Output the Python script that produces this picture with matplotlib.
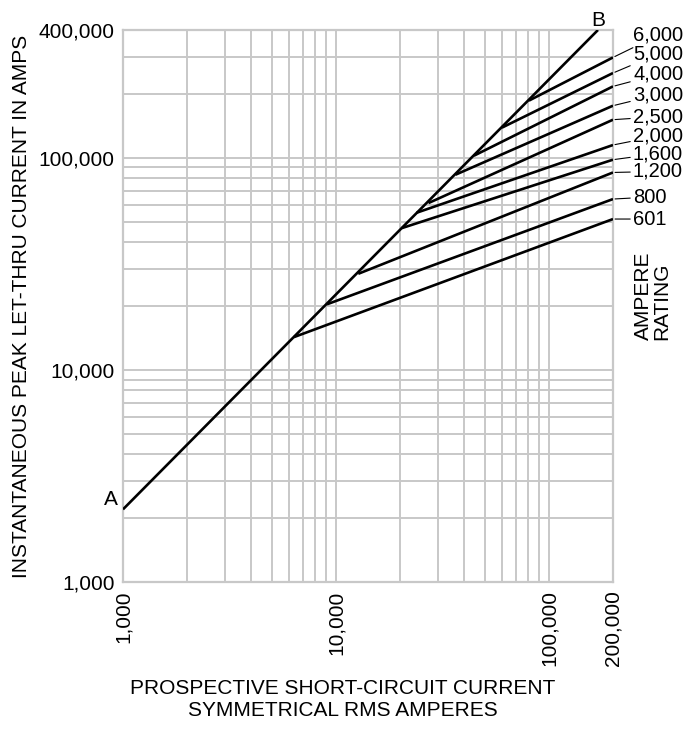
import numpy as np
import matplotlib
matplotlib.use('Agg')
import matplotlib.pyplot as plt
from matplotlib.ticker import FixedLocator, NullFormatter

plt.rcParams['font.family'] = ['Liberation Sans', 'DejaVu Sans']

# line A-B (let-thru = available peak)
ab_x = [1000, 170000]
ab_y = [2200, 400000]

# ampere rating lines: break point on A-B, end value at 200,000 A
ratings = ['601', '800', '1,200', '1,600', '2,000', '2,500', '3,000', '4,000', '5,000', '6,000']
break_x = [6350, 9070, 12730, 20400, 23920, 27180, 36390, 44450, 60170, 80530]
break_y = [14270, 20370, 28370, 46590, 55040, 61120, 83130, 102200, 138600, 185800]
end_x = 200000
end_y = [51400, 63850, 85220, 97900, 114800, 151100, 175900, 216900, 250800, 297000]

x_ticks = [1000, 10000, 100000, 200000]
x_ticklabels = ['1,000', '10,000', '100,000', '200,000']
y_ticks = [1000, 10000, 100000, 400000]
y_ticklabels = ['1,000', '10,000', '100,000', '400,000']

# label offsets (pixels up from line end)
label_dy = [0, 2, 1, 6, 9, 3, 11, 12, 19, 22]

fig = plt.figure(figsize=(7.0, 7.33), dpi=100)
ax = fig.add_axes([123/700, 1-582/733, 490/700, 552/733])
ax.set_xscale('log')
ax.set_yscale('log')
ax.set_xlim(1000, 200000)
ax.set_ylim(1000, 400000)

gc = '#c8c8c8'
xgrid = [m*10**e for e in (3, 4) for m in range(1, 10)] + [100000]
ygrid = [m*10**e for e in (3, 4) for m in range(1, 10)] + [100000, 200000, 300000]
for v in xgrid:
    ax.axvline(v, color=gc, lw=1.4, zorder=1)
for v in ygrid:
    ax.axhline(v, color=gc, lw=1.4, zorder=1)
for s in ax.spines.values():
    s.set_color(gc)
    s.set_linewidth(1.6)

ax.xaxis.set_major_locator(FixedLocator(x_ticks))
ax.set_xticklabels(x_ticklabels, rotation=90, fontsize=15)
ax.xaxis.set_minor_formatter(NullFormatter())
ax.yaxis.set_major_locator(FixedLocator(y_ticks))
ax.set_yticklabels(y_ticklabels, fontsize=15)
ax.yaxis.set_minor_formatter(NullFormatter())
ax.tick_params(which='both', length=0, pad=6)

ax.plot(ab_x, ab_y, color='black', lw=1.9, zorder=3, solid_capstyle='butt')
for i, r in enumerate(ratings):
    ax.plot([break_x[i], end_x], [break_y[i], end_y[i]], color='black', lw=1.9,
            zorder=3, solid_capstyle='butt')
    ax.annotate(r, xy=(end_x, end_y[i]), xytext=(20*0.72, label_dy[i]*0.72),
                textcoords='offset points', ha='left', va='center', fontsize=14.5,
                annotation_clip=False,
                arrowprops=dict(arrowstyle='-', lw=0.8, color='black',
                                shrinkA=0, shrinkB=1.5))

ax.text(ab_x[0], ab_y[0], 'A ', ha='right', va='bottom', fontsize=15)
ax.text(ab_x[1], ab_y[1], 'B', ha='center', va='bottom', fontsize=15, clip_on=False)

fig.text(653/700, 1-340/733, 'AMPERE\nRATING', rotation=90, ha='center', va='bottom',
         multialignment='left', fontsize=15, linespacing=0.95)

fig.text(22/700, 1-306/733, 'INSTANTANEOUS PEAK LET-THRU CURRENT IN AMPS',
         rotation=90, ha='center', va='center', fontsize=15)
fig.text(343/700, 1-688/733, 'PROSPECTIVE SHORT-CIRCUIT CURRENT',
         ha='center', va='center', fontsize=15)
fig.text(343/700, 1-710/733, 'SYMMETRICAL RMS AMPERES',
         ha='center', va='center', fontsize=15)

fig.savefig('out.png', dpi=100)
